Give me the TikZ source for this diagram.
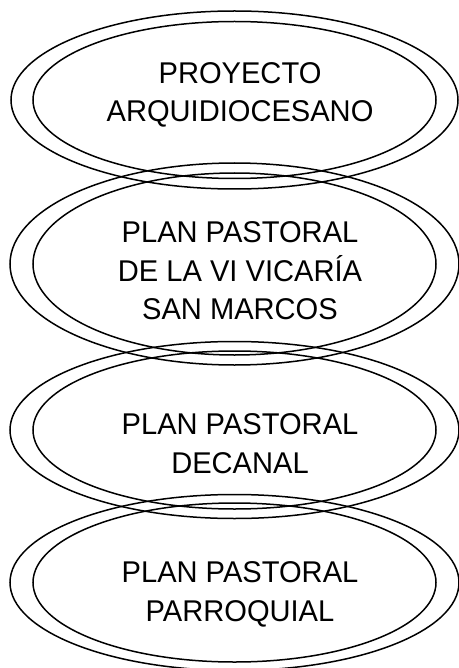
\documentclass[tikz,border=0pt]{standalone}
\usepackage{fontspec}
\setmainfont{Liberation Sans}
\newfontfamily\planfont[FakeStretch=0.97]{Liberation Sans}
\usetikzlibrary{shapes.geometric}
\tikzset{
  plannode/.style = {shape=ellipse, draw, line width=1.5pt,
                     minimum width=403pt, minimum height=157pt, inner sep=0pt},
  outerring/.style = {line width=1.5pt},
  plantext/.style  = {align=center, font=\planfont\fontsize{30}{38.4}\selectfont}
}

\begin{document}
\begin{tikzpicture}[x=1pt,y=-1pt]
  \useasboundingbox (0,0) rectangle (458,668);

  % inner ellipses
  \node[plannode] (proyecto)  at (234.5,100) {};
  \node[plannode, minimum height=182pt] (vicaria) at (234.5,264) {};
  \node[plannode, minimum height=158pt] (decanal)   at (234.5,430) {};
  \node[plannode, minimum height=159pt] (parroquia) at (234.5,582.5) {};

  % outer rings
  \draw[outerring] (proyecto.center)  ellipse [x radius=223.5, y radius=89];
  \draw[outerring] (vicaria.center)   ellipse [x radius=224.5, y radius=101];
  \draw[outerring] (decanal.center)   ellipse [x radius=224.5, y radius=88.5];
  \draw[outerring] (parroquia.center) ellipse [x radius=224.5, y radius=88];

  % texts
  \node[plantext] (proyectotxt)  at (240,95)  {PROYECTO\\ARQUIDIOCESANO};
  \node[plantext] (vicariatxt)   at (240,271) {PLAN PASTORAL\\DE LA VI VICARÍA\\SAN MARCOS};
  \node[plantext] (decanaltxt)   at (240,443.5) {PLAN PASTORAL\\DECANAL};
  \node[plantext] (parroquiatxt) at (240,594.5) {PLAN PASTORAL\\PARROQUIAL};
\end{tikzpicture}
\end{document}
